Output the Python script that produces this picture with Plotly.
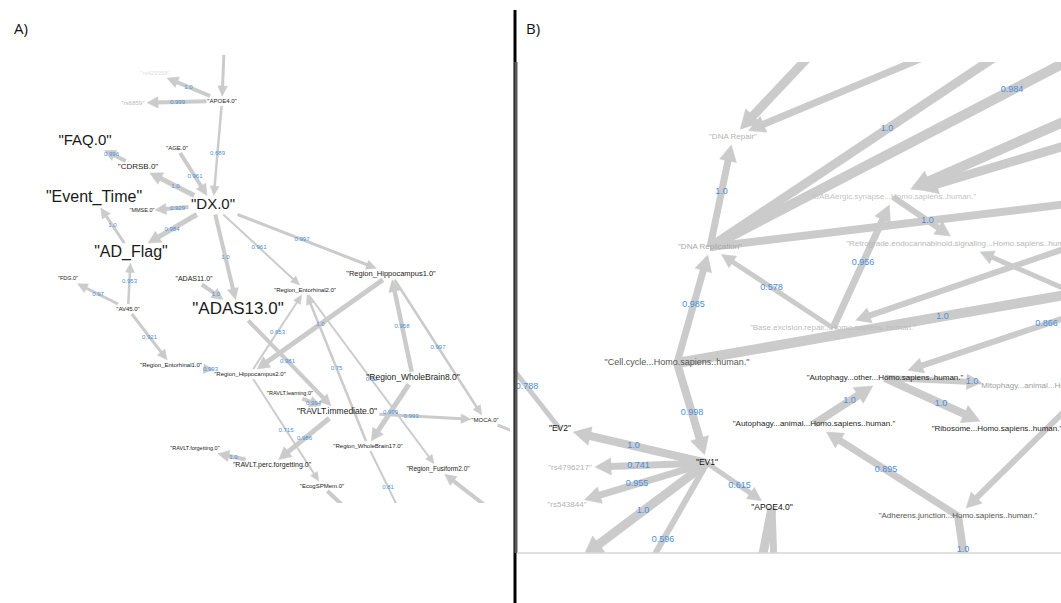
import math
import plotly.graph_objects as go

W, H = 1061, 603
EDGE = "#cbcbcb"
WEIGHT_BLUE = "#4a8fdc"
FONT = "Liberation Sans, Arial, sans-serif"

# ---------------- Panel A: clinical / imaging variables ----------------
a_ids = ["APOE4", "RS1", "RS2", "AGE", "CDRSB", "FAQ", "DX", "MMSE", "EVT", "ADF",
         "ADAS11", "ADAS13", "FDG", "AV45", "ENT1", "HIP2", "ENT2", "HIP1", "WB8",
         "MOCA", "RIMM", "RLRN", "RPF", "RFGT", "ECOG", "WB17", "FUS",
         "X_TOP", "X_WB", "X_ECOG", "X_FUS", "X_MOCA"]
a_labels = ['"APOE4.0"', '"rs429358"', '"rs6859"', '"AGE.0"', '"CDRSB.0"', '"FAQ.0"',
            '"DX.0"', '"MMSE.0"', '"Event_Time"', '"AD_Flag"', '"ADAS11.0"', '"ADAS13.0"',
            '"FDG.0"', '"AV45.0"', '"Region_Entorhinal1.0"', '"Region_Hippocampus2.0"',
            '"Region_Entorhinal2.0"', '"Region_Hippocampus1.0"', '"Region_WholeBrain8.0"',
            '"MOCA.0"', '"RAVLT.immediate.0"', '"RAVLT.learning.0"',
            '"RAVLT.perc.forgetting.0"', '"RAVLT.forgetting.0"', '"EcogSPMem.0"',
            '"Region_WholeBrain17.0"', '"Region_Fusiform2.0"', "", "", "", "", ""]
a_x = [222, 155, 133, 177, 138, 85, 213, 142, 94, 131, 194, 238, 68, 128, 171, 250,
       305, 391, 413, 485, 337, 290, 272, 195, 322, 368, 438, 226, 408, 370, 540, 545]
a_y = [101, 73, 103, 148, 167, 141, 205, 211, 198, 253, 279, 310, 279, 309, 365, 374,
       290, 274, 378, 420, 412, 394, 465, 449, 486, 446, 469, 0, 528, 531, 548, 444]
a_src = ["X_TOP", "APOE4", "APOE4", "APOE4", "AGE", "DX", "CDRSB", "DX", "DX", "ADF",
         "DX", "DX", "DX", "ADAS11", "AV45", "AV45", "AV45", "ENT1", "HIP1", "HIP2",
         "ADAS13", "WB17", "ENT2", "WB8", "HIP1", "RLRN", "WB8", "RIMM", "HIP2", "RIMM",
         "RPF", "WB17", "ECOG", "X_FUS", "MOCA"]
a_dst = ["APOE4", "RS1", "RS2", "DX", "DX", "CDRSB", "FAQ", "MMSE", "ADF", "EVT",
         "ADAS13", "ENT2", "HIP1", "ADAS13", "FDG", "ADF", "ENT1", "HIP2", "HIP2", "ENT2",
         "RIMM", "ENT2", "FUS", "HIP1", "MOCA", "RIMM", "WB17", "MOCA", "ECOG", "RPF",
         "RFGT", "X_WB", "X_ECOG", "FUS", "X_MOCA"]
a_weight = [1.0, 1.0, 0.999, 0.689, 0.961, 1.0, 0.996, 0.929, 0.984, 1.0,
            1.0, 0.961, 0.997, 1.0, 0.97, 0.953, 0.921, 0.993, 1.0, 0.653,
            0.981, 0.75, 0.52, 0.958, 0.997, 0.994, 0.999, 0.993, 0.715, 0.986,
            1.0, 0.81, 1.0, 1.0, 1.0]

# label styling for panel A
a_font = [6, 6, 6, 6, 8, 15, 15, 5.5, 16, 16, 7, 17, 5.5, 6, 6, 6, 6, 7.5, 8.5,
          6, 8.5, 5.5, 7, 5.5, 6, 6, 6.5, 0, 0, 0, 0, 0]
a_color = ["#1a1a1a", "#e2e2e2", "#b8b8b8"] + ["#1a1a1a"] * 29
a_width = [3, 4, 4, 2.5, 4, 5, 4, 4, 5, 3, 4, 2, 3, 4, 3, 2.5, 3, 3, 5, 2,
           4, 2.5, 2, 4.5, 2.5, 4, 5, 3, 2, 5, 4, 2, 4, 4, 3]

# ---------------- Panel B: pathways and eigenvariables ----------------
b_ids = ["DREP", "DREPL", "GABA", "RETRO", "BER", "CC", "EV2", "EV1", "RSA", "RSB",
         "APOE4", "AUTA", "AUTO", "MITO", "RIBO", "ADH",
         "Y1", "Y2", "Y3", "Y4", "Y5", "Y6", "Y7", "Y8", "YX", "Y9", "Y10", "Y11",
         "Y12", "Y13", "Y14", "Y15"]
b_labels = ['"DNA Repair"', '"DNA Replication"',
            '"GABAergic.synapse...Homo.sapiens..human."',
            '"Retrograde.endocannabinoid.signaling...Homo.sapiens..human."',
            '"Base.excision.repair...Homo.sapiens..human."',
            '"Cell.cycle...Homo.sapiens..human."', '"EV2"', '"EV1"', '"rs4796217"',
            '"rs543844"', '"APOE4.0"', '"Autophagy...animal...Homo.sapiens..human."',
            '"Autophagy...other...Homo.sapiens..human."',
            '"Mitophagy...animal...Homo.sapiens..human."',
            '"Ribosome...Homo.sapiens..human."',
            '"Adherens.junction...Homo.sapiens..human."'] + [""] * 16
b_x = [733, 710, 893, 962, 833, 677, 560, 707, 570, 567, 772, 814, 885, 1059, 997, 958,
       897, 1131, 1064, 1314, 1450, 1290, 1290, 1250, 1208, 1330, 494, 579, 619, 750,
       776, 968]
b_y = [137, 247, 197, 244, 328, 363, 429, 463, 468, 505, 508, 424, 378, 386, 429, 516,
       -37, -29, 11, -67, 158, 22, 79, 370, 270, 158, 345, 559, 617, 620, 620, 584]
b_src = ["DREPL", "Y1", "Y2", "DREPL", "DREPL", "DREPL", "Y6", "Y7", "BER", "GABA",
         "Y8", "BER", "CC", "CC", "Y9", "YX", "YX", "CC", "EV1", "EV1", "EV1", "EV1",
         "EV1", "EV1", "EV2", "APOE4", "APOE4", "AUTA", "AUTO", "AUTO", "ADH", "ADH"]
b_dst = ["DREP", "DREP", "DREP", "Y3", "Y4", "Y5", "GABA", "GABA", "GABA", "RETRO",
         "RETRO", "DREPL", "DREPL", "YX", "BER", "AUTO", "ADH", "EV1", "EV2", "RSA",
         "RSB", "Y11", "Y12", "APOE4", "Y10", "Y13", "Y14", "AUTO", "MITO", "RIBO",
         "AUTA", "Y15"]
b_weight = [1.0, 1.0, 1.0, 1.0, 0.984, 1.0, 1.0, 1.0, 0.956, 1.0,
            1.0, 0.578, 0.985, 1.0, 1.0, 0.866, 1.0, 0.998, 1.0, 0.741,
            0.955, 1.0, 0.596, 0.615, 0.788, 1.0, 1.0, 1.0, 1.0, 1.0,
            0.895, 1.0]

# label styling for panel B
b_font = [8, 8, 8, 8, 8, 9, 8.5, 8.5, 8, 8, 8.5, 8, 8, 8, 8, 8] + [0] * 16
b_color = ["#b4b4b4", "#a8a8a8", "#c4c4c4", "#b8b8b8", "#bcbcbc", "#555555", "#111111",
           "#111111", "#b4b4b4", "#b4b4b4", "#111111", "#262626", "#262626", "#a0a0a0",
           "#262626", "#555555"] + ["#ffffff"] * 16
b_width = [7, 9, 7, 9, 10, 8, 10, 9, 7, 6, 5, 5, 7, 10, 6, 6, 6, 8, 8, 7,
           7, 9, 6, 5, 5, 9, 7, 8, 6, 8, 7, 8]


def node_box(label, size, pad, char_w):
    """Half width / half height of the region a label occupies."""
    if not label:
        return (6.0, 6.0)
    return (0.5 * char_w * size * len(label) + pad, 0.5 * size + pad)


def cut(cx, cy, ux, uy, box, shape):
    """Point where a ray from the label centre along (ux, uy) leaves its region."""
    hw, hh = box
    if shape == "ellipse":
        t = 1.0 / math.sqrt((ux / hw) ** 2 + (uy / hh) ** 2)
    else:
        tx = hw / abs(ux) if abs(ux) > 1e-9 else 1e9
        ty = hh / abs(uy) if abs(uy) > 1e-9 else 1e9
        t = min(tx, ty)
    return cx + ux * t, cy + uy * t


def add_panel(fig, labels, ids, xs, ys, sizes, colors, src, dst, weights, widths,
              xa, ya, cfg):
    idx = {k: i for i, k in enumerate(ids)}
    boxes = [node_box(labels[i], sizes[i], cfg["pad"], cfg["char_w"])
             for i in range(len(ids))]
    hx, hy = [], []
    lx, ly, lt = [], [], []
    for s, d, w, lw in zip(src, dst, weights, widths):
        i, j = idx[s], idx[d]
        x0, y0, x1, y1 = xs[i], ys[i], xs[j], ys[j]
        n = math.hypot(x1 - x0, y1 - y0)
        ux, uy = (x1 - x0) / n, (y1 - y0) / n
        if cfg["clip_source"] and labels[i]:
            sx, sy = cut(x0, y0, ux, uy, boxes[i], cfg["shape"])
        else:
            sx, sy = x0, y0
        tx, ty = cut(x1, y1, -ux, -uy, boxes[j], cfg["shape"])
        hl = cfg["head_len"] + cfg["head_len_k"] * lw
        hw = cfg["head_w"] + cfg["head_w_k"] * lw
        bx, by = tx - ux * hl, ty - uy * hl
        fig.add_trace(go.Scatter(
            x=[sx, bx + ux], y=[sy, by + uy], mode="lines",
            line=dict(color=EDGE, width=lw), hoverinfo="skip", showlegend=False,
            xaxis=xa, yaxis=ya))
        hx += [tx, bx - uy * hw, bx + uy * hw, tx, None]
        hy += [ty, by + ux * hw, by - ux * hw, ty, None]
        lx.append((x0 + x1) / 2)
        ly.append((y0 + y1) / 2)
        lt.append(str(w))
    # arrow heads
    fig.add_trace(go.Scatter(
        x=hx, y=hy, mode="lines", fill="toself", fillcolor=EDGE,
        line=dict(color=EDGE, width=0.5), hoverinfo="skip", showlegend=False,
        xaxis=xa, yaxis=ya))
    # edge weights
    fig.add_trace(go.Scatter(
        x=lx, y=ly, mode="text", text=lt, cliponaxis=True,
        textfont=dict(family=FONT, size=cfg["weight_size"], color=WEIGHT_BLUE),
        hoverinfo="skip", showlegend=False, xaxis=xa, yaxis=ya))
    # node names
    keep = [k for k in range(len(ids)) if labels[k]]
    fig.add_trace(go.Scatter(
        x=[xs[k] for k in keep], y=[ys[k] for k in keep], mode="text",
        text=[labels[k] for k in keep], cliponaxis=True,
        textfont=dict(family=FONT, size=[sizes[k] for k in keep],
                      color=[colors[k] for k in keep]),
        hoverinfo="skip", showlegend=False, xaxis=xa, yaxis=ya))


fig = go.Figure()

# panel boxes in pixel units (x0, x1, ytop, ybottom)
A_BOX = (0, 510, 55, 503)
B_BOX = (517, 1061, 62, 553)

add_panel(fig, a_labels, a_ids, a_x, a_y, a_font, a_color, a_src, a_dst, a_weight,
          a_width, "x", "y",
          dict(pad=2, char_w=0.5, clip_source=True, shape="box", head_len=6.5,
               head_len_k=1.15, head_w=2.4, head_w_k=0.8, weight_size=6))
add_panel(fig, b_labels, b_ids, b_x, b_y, b_font, b_color, b_src, b_dst, b_weight,
          b_width, "x2", "y2",
          dict(pad=4, char_w=0.48, clip_source=False, shape="ellipse", head_len=7,
               head_len_k=1.3, head_w=3, head_w_k=0.8, weight_size=9))


def axis_pair(box):
    x0, x1, yt, yb = box
    xd = [x0 / W, x1 / W]
    yd = [1 - yb / H, 1 - yt / H]
    return (dict(domain=xd, range=[x0, x1], visible=False, fixedrange=True),
            dict(domain=yd, range=[yb, yt], visible=False, fixedrange=True))


xa, ya = axis_pair(A_BOX)
xb, yb = axis_pair(B_BOX)
yb["anchor"] = "x2"
xb["anchor"] = "y2"

fig.update_layout(
    width=W, height=H, autosize=False,
    margin=dict(l=0, r=0, t=0, b=0, pad=0),
    paper_bgcolor="white", plot_bgcolor="white",
    xaxis=xa, yaxis=ya, xaxis2=xb, yaxis2=yb,
    showlegend=False,
    shapes=[
        # divider between the two panels
        dict(type="line", xref="paper", yref="paper", x0=515 / W, x1=515 / W,
             y0=0, y1=1 - 10 / H, line=dict(color="#000000", width=3)),
        dict(type="line", xref="paper", yref="paper", x0=516 / W, x1=516 / W,
             y0=1 - 553 / H, y1=1 - 62 / H, line=dict(color="#5a5a5a", width=3)),
        # lower edge of panel B
        dict(type="line", xref="paper", yref="paper", x0=517 / W, x1=1,
             y0=1 - 553 / H, y1=1 - 553 / H, line=dict(color="#d6d6d6", width=1.5)),
    ],
    annotations=[
        dict(text="A)", x=12 / W, y=1 - 28 / H, xref="paper", yref="paper",
             xanchor="left", yanchor="middle", showarrow=False,
             font=dict(family="Open Sans, sans-serif", size=15, color="#111111")),
        dict(text="B)", x=524 / W, y=1 - 28 / H, xref="paper", yref="paper",
             xanchor="left", yanchor="middle", showarrow=False,
             font=dict(family="Open Sans, sans-serif", size=15, color="#111111")),
    ],
)

fig.write_html("out.html")
